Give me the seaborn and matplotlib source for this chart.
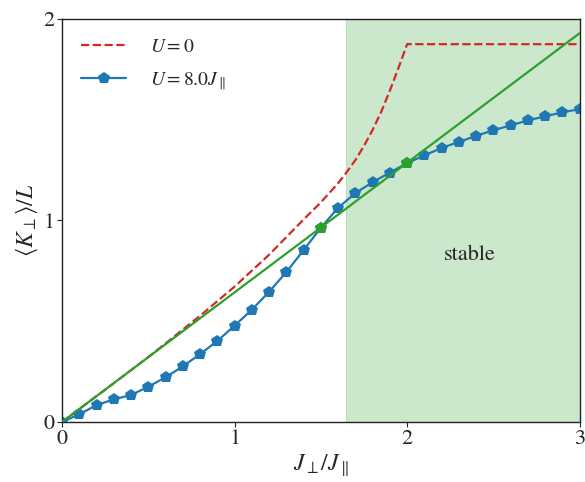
import numpy as np
import pandas as pd
import seaborn as sns
import matplotlib
matplotlib.use('Agg')
import matplotlib.pyplot as plt

# U = 8.0 J_par 数据点
jp_u8 = [0.0, 0.1, 0.2, 0.3, 0.4, 0.5, 0.6, 0.7, 0.8, 0.9,
         1.0, 1.1, 1.2, 1.3, 1.4, 1.5, 1.6, 1.7, 1.8, 1.9,
         2.0, 2.1, 2.2, 2.3, 2.4, 2.5, 2.6, 2.7, 2.8, 2.9, 3.0]
k_u8 = [0.0, 0.038, 0.084, 0.112, 0.134, 0.175, 0.222, 0.276, 0.337, 0.402,
        0.478, 0.557, 0.646, 0.744, 0.853, 0.964, 1.063, 1.136, 1.190, 1.238,
        1.285, 1.323, 1.360, 1.390, 1.420, 1.448, 1.472, 1.497, 1.517, 1.537, 1.553]

# U = 0 曲线
jp_u0 = [0.0, 0.25, 0.5, 0.6, 0.8, 1.0, 1.2, 1.4, 1.5, 1.6,
         1.65, 1.7, 1.75, 1.8, 1.85, 1.9, 1.95, 2.0, 3.0]
k_u0 = [0.0, 0.16, 0.322, 0.39, 0.527, 0.672, 0.83, 1.005, 1.09, 1.185,
        1.24, 1.30, 1.37, 1.45, 1.54, 1.645, 1.758, 1.875, 1.875]

# 绿色直线 与 标记点
line_x = [0.0, 3.0]
line_y = [0.0, 1.93]
mark_x = [1.5, 2.0]
mark_y = [0.964, 1.285]

stable_start = 1.645

sns.set_style('ticks')
plt.rcParams['font.family'] = ['STIXGeneral', 'DejaVu Sans']
plt.rcParams['mathtext.fontset'] = 'stix'

fig, ax = plt.subplots(figsize=(5.85, 4.82), dpi=100)
fig.subplots_adjust(left=0.106, right=0.991, bottom=0.1245, top=0.9606)

ax.axvspan(stable_start, 3.0, color='#2ca02c', alpha=0.24, lw=0.8)

sns.lineplot(x=jp_u0, y=k_u0, ax=ax, color='#d62728', linestyle='--', lw=1.6,
             label=r'$U=0$', sort=False)
sns.lineplot(x=jp_u8, y=k_u8, ax=ax, color='#1f77b4', marker='p', markersize=9,
             markeredgewidth=0, lw=1.6, label=r'$U=8.0J_\parallel$', sort=False)
ax.plot(line_x, line_y, color='#2ca02c', lw=1.6, zorder=3)
ax.plot(mark_x, mark_y, 'p', color='#2ca02c', markersize=9, markeredgewidth=0,
        zorder=4)

ax.text(2.36, 0.83, 'stable', fontsize=16, ha='center', va='center')

ax.set_xlim(0, 3)
ax.set_ylim(0, 2)
ax.set_xticks([0, 1, 2, 3])
ax.set_yticks([0, 1, 2])
ax.tick_params(labelsize=16, length=3.5, width=0.8, pad=2)
ax.set_xlabel(r'$J_\perp/J_\parallel$', fontsize=17, labelpad=2)
ax.set_ylabel(r'$\langle K_\perp \rangle/L$', fontsize=17, labelpad=2)
for s in ax.spines.values():
    s.set_linewidth(1.0)
    s.set_color('#222222')

ax.legend(loc='upper left', frameon=False, fontsize=14, handlelength=2.3,
          handletextpad=1.2, labelspacing=0.75, borderaxespad=0.6)

plt.savefig('out.png')
